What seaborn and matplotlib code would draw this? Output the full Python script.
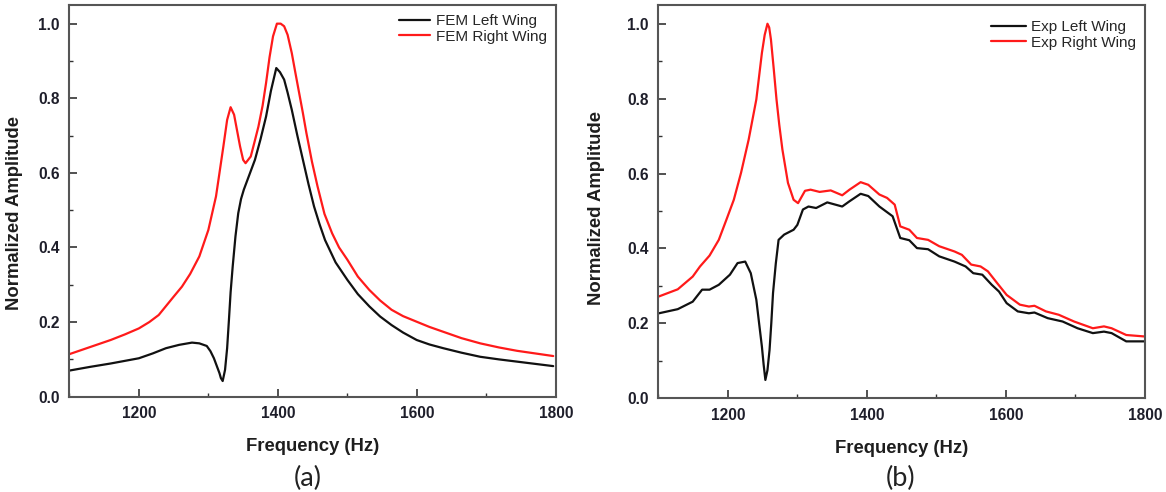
import numpy as np
import pandas as pd
import matplotlib
matplotlib.use("Agg")
import matplotlib.pyplot as plt
from matplotlib.ticker import MultipleLocator
import seaborn as sns

# ---------------- data ----------------
fem_right_f = [1100, 1159.5, 1180, 1200, 1215, 1228.6, 1250, 1262, 1273.8, 1287, 1300, 1311, 1316,
               1321.6, 1327, 1332, 1337, 1345.6, 1350, 1353.5, 1361, 1366, 1372, 1378, 1383, 1388,
               1393, 1398.6, 1404, 1409, 1414, 1420, 1425, 1430.6, 1436, 1441, 1449, 1457, 1467,
               1478, 1488, 1500, 1515, 1531.6, 1547, 1563.5, 1580, 1599.6, 1618, 1637.9, 1664, 1691,
               1718, 1744, 1770, 1796]
fem_right_a = [0.114, 0.152, 0.167, 0.183, 0.200, 0.219, 0.268, 0.295, 0.329, 0.376, 0.447, 0.537, 0.600,
               0.671, 0.742, 0.776, 0.756, 0.671, 0.635, 0.626, 0.644, 0.680, 0.724, 0.780, 0.841, 0.910,
               0.966, 1.0, 1.0, 0.993, 0.970, 0.921, 0.870, 0.814, 0.760, 0.707, 0.630, 0.564, 0.490,
               0.438, 0.400, 0.367, 0.322, 0.286, 0.258, 0.233, 0.216, 0.201, 0.187, 0.174, 0.157, 0.143,
               0.132, 0.123, 0.116, 0.109]

fem_left_f = [1100, 1130, 1159.5, 1200, 1220, 1239, 1258, 1276.5, 1287, 1297.7, 1303, 1308, 1312, 1316,
              1318, 1320.6, 1324, 1327, 1329.6, 1332, 1335, 1339, 1343, 1347, 1351, 1358, 1367, 1375,
              1383, 1390, 1397.7, 1403, 1409, 1414, 1420, 1428, 1436, 1444, 1452, 1460, 1467.8, 1483,
              1500, 1515, 1531.6, 1547, 1563.5, 1580, 1599.6, 1618, 1637.9, 1664, 1691, 1718, 1744,
              1770, 1796]
fem_left_a = [0.070, 0.080, 0.089, 0.103, 0.116, 0.130, 0.139, 0.145, 0.143, 0.136, 0.122, 0.103, 0.083, 0.063,
              0.050, 0.042, 0.072, 0.130, 0.206, 0.280, 0.349, 0.430, 0.492, 0.530, 0.555, 0.590, 0.635, 0.690,
              0.751, 0.820, 0.881, 0.870, 0.850, 0.815, 0.769, 0.700, 0.635, 0.570, 0.510, 0.462, 0.420, 0.360,
              0.313, 0.275, 0.242, 0.215, 0.192, 0.172, 0.152, 0.140, 0.130, 0.118, 0.107, 0.100, 0.094,
              0.088, 0.082]

exp_right_f = [1101, 1128, 1149.5, 1160, 1173.7, 1187, 1198, 1208.6, 1219, 1230, 1241, 1245, 1249, 1253,
               1257, 1259.5, 1262, 1266, 1270, 1274, 1278.5, 1286.5, 1294.6, 1301, 1311, 1319, 1332,
               1348, 1364.5, 1375, 1391, 1402, 1418, 1429, 1440, 1448, 1461, 1472, 1488, 1504, 1526,
               1536.6, 1550, 1563.5, 1574, 1587.6, 1601, 1620, 1633, 1641, 1657.5, 1676, 1698, 1725,
               1741, 1752, 1773, 1800]
exp_right_a = [0.272, 0.291, 0.325, 0.352, 0.381, 0.423, 0.477, 0.530, 0.602, 0.691, 0.798, 0.860, 0.922, 0.970,
               1.0, 0.990, 0.958, 0.880, 0.798, 0.730, 0.664, 0.575, 0.530, 0.521, 0.554, 0.557, 0.551,
               0.555, 0.542, 0.557, 0.577, 0.570, 0.544, 0.535, 0.517, 0.459, 0.450, 0.428, 0.423, 0.406, 0.392,
               0.383, 0.357, 0.352, 0.339, 0.307, 0.276, 0.250, 0.245, 0.247, 0.232, 0.223, 0.205, 0.187,
               0.192, 0.187, 0.169, 0.165]

exp_left_f = [1101, 1128, 1149.5, 1163, 1173.7, 1187, 1203, 1214, 1225, 1233, 1241, 1245, 1249, 1251.5,
              1254, 1257, 1260, 1262.5, 1265, 1269, 1273, 1281, 1294.6, 1300, 1308, 1316, 1327, 1343,
              1364.5, 1375, 1391, 1402, 1418, 1437, 1448, 1461, 1472, 1488, 1504, 1526, 1542, 1553,
              1566, 1579.6, 1590, 1601, 1617, 1633, 1641, 1660, 1681.5, 1703, 1725, 1741, 1752, 1773, 1800]
exp_left_a = [0.227, 0.238, 0.258, 0.290, 0.290, 0.303, 0.330, 0.361, 0.365, 0.334, 0.263, 0.200, 0.138, 0.090,
              0.049, 0.075, 0.129, 0.200, 0.281, 0.360, 0.423, 0.437, 0.450, 0.463, 0.504, 0.512, 0.508, 0.523,
              0.512, 0.526, 0.546, 0.540, 0.512, 0.486, 0.428, 0.422, 0.401, 0.398, 0.379, 0.365, 0.352, 0.334,
              0.330, 0.303, 0.285, 0.254, 0.232, 0.227, 0.229, 0.214, 0.205, 0.187, 0.174, 0.178, 0.174,
              0.152, 0.152]

labels_a = ["FEM Left Wing", "FEM Right Wing"]
labels_b = ["Exp Left Wing", "Exp Right Wing"]
x_ticks = [1200, 1400, 1600, 1800]
y_ticks = [0.0, 0.2, 0.4, 0.6, 0.8, 1.0]
panel_titles = ["(a)", "(b)"]
x_label = "Frequency (Hz)"
y_label = "Normalized Amplitude"

# ---------------- style ----------------
sns.set_style("ticks")
plt.rcParams['font.family'] = ['Liberation Sans', 'DejaVu Sans']

W, H = 1166, 492
fig = plt.figure(figsize=(W / 100, H / 100), dpi=100)

axA = fig.add_axes([69.3 / W, 1 - 396.7 / H, (556 - 69.3) / W, (396.7 - 5) / H])
axB = fig.add_axes([658.3 / W, 1 - 398.3 / H, (1145 - 658.3) / W, (398.3 - 5) / H])

def make_df(f1, a1, lab1, f2, a2, lab2):
    return pd.concat([
        pd.DataFrame({"f": f1, "a": a1, "s": lab1}),
        pd.DataFrame({"f": f2, "a": a2, "s": lab2}),
    ], ignore_index=True)

dfA = make_df(fem_left_f, fem_left_a, labels_a[0], fem_right_f, fem_right_a, labels_a[1])
dfB = make_df(exp_left_f, exp_left_a, labels_b[0], exp_right_f, exp_right_a, labels_b[1])

pal = ["#111111", "#ff1a1a"]
for ax, df, labs, ylab_x, ylab_y in [(axA, dfA, labels_a, -0.095, 0.47),
                                     (axB, dfB, labels_b, -0.11, 0.485)]:
    sns.lineplot(data=df, x="f", y="a", hue="s", hue_order=labs, palette=pal,
                 linewidth=1.6, ax=ax, estimator=None)
    ax.set_xlim(1100, 1800)
    ax.set_ylim(0, 1.05)
    ax.set_xticks(x_ticks)
    ax.set_yticks(y_ticks)
    ax.set_yticklabels([f"{v:.1f}" for v in y_ticks])
    ax.xaxis.set_minor_locator(MultipleLocator(100))
    ax.yaxis.set_minor_locator(MultipleLocator(0.1))
    ax.tick_params(which="major", direction="in", length=6, width=1.2, color="#333333",
                   labelsize=11.2, labelcolor="#1e1e2a", pad=7)
    ax.tick_params(which="minor", direction="in", length=3, width=1.0, color="#333333")
    for lab in ax.get_xticklabels() + ax.get_yticklabels():
        lab.set_fontweight("bold")
    for sp in ax.spines.values():
        sp.set_visible(True)
        sp.set_linewidth(1.5)
        sp.set_color("#555555")
    ax.set_xlabel(x_label, fontsize=13.3, fontweight="bold", color="#1e1e1e", labelpad=12)
    ax.set_ylabel(y_label, fontsize=13.3, fontweight="bold", color="#1e1e1e")
    ax.yaxis.set_label_coords(ylab_x, ylab_y)

axA.legend(loc="upper right", frameon=False, fontsize=11, handlelength=2.0,
           handletextpad=0.4, labelspacing=0.1, borderaxespad=0.2, bbox_to_anchor=(1.0, 1.0))
axB.legend(loc="upper right", frameon=False, fontsize=11, handlelength=2.3,
           handletextpad=0.3, labelspacing=0.1, borderaxespad=0.2, bbox_to_anchor=(1.0, 0.985))
for ax in (axA, axB):
    for line in ax.get_legend().get_lines():
        line.set_linewidth(1.6)

fig.text(308 / W, 1 - 478 / H, panel_titles[0], ha="center", va="center",
         fontsize=19.5, family=["Lato", "DejaVu Sans"], color="#222222")
fig.text(901 / W, 1 - 478 / H, panel_titles[1], ha="center", va="center",
         fontsize=19.5, family=["Lato", "DejaVu Sans"], color="#222222")

fig.savefig("out.png", dpi=100)
